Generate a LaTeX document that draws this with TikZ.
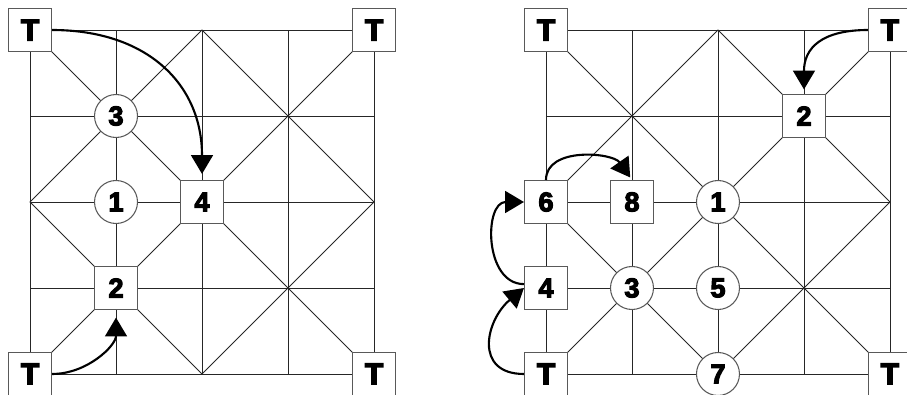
\documentclass[tikz,border=0pt]{standalone}
\usepackage{fontspec}
\setmainfont{Liberation Sans}
\newfontfamily\heavyfont{Liberation Sans}[UprightFont={* Bold}, FakeBold=4]
\usetikzlibrary{arrows.meta}

\tikzset{
  board/.style={line width=0.6pt, black!85},
  sq/.style={draw=black!65, fill=white, line width=0.7pt, minimum size=1cm, inner sep=0pt, font=\fontsize{18}{21}\heavyfont},
  rnd/.style={sq, circle},
  tiger/.style={sq, font=\fontsize{20}{23}\heavyfont},
  move/.style={-{Triangle[length=12.5pt,width=14.5pt]}, line width=1.4pt, black},
}

\begin{document}
\begin{tikzpicture}[x=2cm,y=2cm]
    \useasboundingbox (-0.349,-0.244) rectangle (10.198,4.349);

    \foreach \ox in {0,6} {
      \foreach \i in {0,...,4} {
        \draw[board] (\ox+\i,0) -- (\ox+\i,4);
        \draw[board] (\ox,\i) -- (\ox+4,\i);
      }
      \draw[board] (\ox,0) -- (\ox+4,4);
      \draw[board] (\ox,4) -- (\ox+4,0);
      \draw[board] (\ox+2,0) -- (\ox+4,2) -- (\ox+2,4) -- (\ox,2) -- cycle;
    }

    % left board
    \node[tiger] (lbl) at (0,0) {T};
    \node[tiger] (ltl) at (0,4) {T};
    \node[tiger] (lbr) at (4,0) {T};
    \node[tiger] (ltr) at (4,4) {T};
    \node[rnd] (l1) at (1,2) {1};
    \node[sq]  (l2) at (1,1) {2};
    \node[rnd] (l3) at (1,3) {3};
    \node[sq]  (l4) at (2,2) {4};

    \draw[move, shorten >=4pt] (ltl.east) to[out=0, in=90, looseness=1.15] (l4.north);
    \draw[move, shorten >=5pt] (lbl.east) to[out=0, in=-90] (l2.south);

    % right board
    \node[tiger] (rbl) at (6,0) {T};
    \node[tiger] (rtl) at (6,4) {T};
    \node[tiger] (rbr) at (10,0) {T};
    \node[tiger] (rtr) at (10,4) {T};
    \node[rnd] (r1) at (8,2) {1};
    \node[sq]  (r2) at (9,3) {2};
    \node[rnd] (r3) at (7,1) {3};
    \node[sq]  (r4) at (6,1) {4};
    \node[rnd] (r5) at (8,1) {5};
    \node[sq]  (r6) at (6,2) {6};
    \node[rnd] (r7) at (8,0) {7};
    \node[sq]  (r8) at (7,2) {8};

    \draw[move, shorten >=3pt] (rtr.west) to[out=180, in=90, looseness=1.3] (r2.north);
    \draw[move, shorten >=2pt] (r6.north) to[out=90, in=125] (r8.north);
    \draw[move] (r4.170) to[out=180, in=180, looseness=1.25] (r6.west);
    \draw[move] (rbl.west) to[out=180, in=220, looseness=1.5] (r4.west);
\end{tikzpicture}
\end{document}
